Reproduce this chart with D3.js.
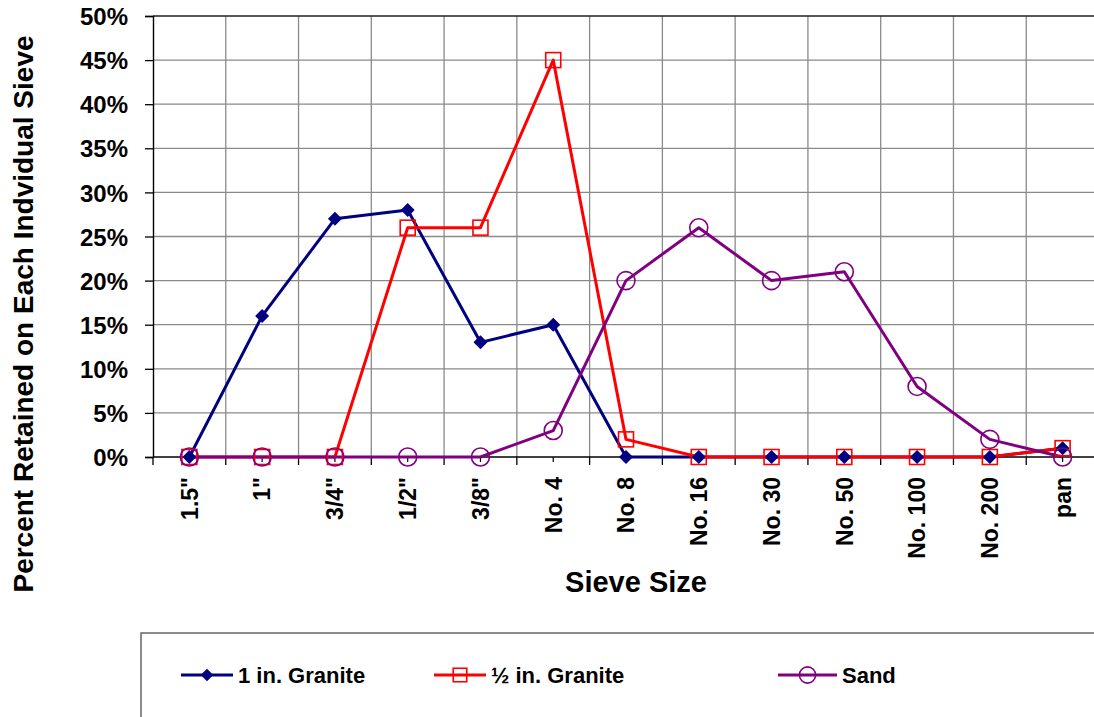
<!DOCTYPE html>
<html><head><meta charset="utf-8">
<script src="https://cdn.jsdelivr.net/npm/d3@7"></script>
<style>body{margin:0;background:#fff;overflow:hidden}svg{display:block}text{font-family:Arial,"Liberation Sans",sans-serif;font-weight:bold;fill:#000}</style>
</head><body>
<script>
const categories = ['1.5"', '1"', '3/4"', '1/2"', '3/8"', 'No. 4', 'No. 8', 'No. 16', 'No. 30', 'No. 50', 'No. 100', 'No. 200', 'pan'];
const granite1 = [0, 16, 27, 28, 13, 15, 0, 0, 0, 0, 0, 0, 1];
const granite05 = [0, 0, 0, 26, 26, 45, 2, 0, 0, 0, 0, 0, 1];
const sand = [0, 0, 0, 0, 0, 3, 20, 26, 20, 21, 8, 2, 0];
const seriesNames = ['1 in. Granite', '\u00bd in. Granite', 'Sand'];
const yTicks = [0, 5, 10, 15, 20, 25, 30, 35, 40, 45, 50];

const W = 1094, H = 717;
const svg = d3.select('body').append('svg').attr('width', W).attr('height', H);

const x = d3.scaleBand().domain(categories).range([153, 1099]);
const y = d3.scaleLinear().domain([0, 50]).range([457, 16]);
const cx = c => x(c) + x.bandwidth() / 2;

// gridlines
const grid = svg.append('g');
grid.selectAll('line.h').data(yTicks.filter(v => v > 0 && v < 50)).join('line')
  .attr('x1', 153).attr('x2', W).attr('y1', d => y(d)).attr('y2', d => y(d))
  .attr('stroke', '#8a8a8a').attr('stroke-width', 1.3);
const bounds = categories.slice(1).map(c => x(c));
grid.selectAll('line.v').data(bounds).join('line')
  .attr('x1', d => d).attr('x2', d => d).attr('y1', y(50)).attr('y2', y(0))
  .attr('stroke', '#8a8a8a').attr('stroke-width', 1.3);
// top border
svg.append('line').attr('x1', 153).attr('x2', W).attr('y1', y(50)).attr('y2', y(50))
  .attr('stroke', '#222').attr('stroke-width', 1.6);

// y axis
const yAxis = d3.axisLeft(y).tickValues(yTicks).tickFormat(d => d + '%').tickSize(8).tickPadding(16);
const gy = svg.append('g').attr('transform', 'translate(153,0)').call(yAxis);
gy.select('.domain').attr('stroke', '#000').attr('stroke-width', 1.4);
gy.selectAll('.tick line').attr('stroke', '#000').attr('stroke-width', 1.3);
gy.selectAll('.tick text').style('font-size', '24px').attr('dy', '0.36em').attr('x', -25);

// x axis
const gx = svg.append('g').attr('transform', 'translate(0,457)');
gx.append('line').attr('x1', 153).attr('x2', W).attr('stroke', '#000').attr('stroke-width', 1.6);
gx.selectAll('line.maj').data([x.range()[0]].concat(bounds)).join('line')
  .attr('x1', d => d).attr('x2', d => d).attr('y1', 0).attr('y2', 8)
  .attr('stroke', '#000').attr('stroke-width', 1.3);
gx.selectAll('line.min').data(categories).join('line')
  .attr('x1', d => cx(d)).attr('x2', d => cx(d)).attr('y1', 0).attr('y2', 5)
  .attr('stroke', '#000').attr('stroke-width', 1.2);
gx.selectAll('text').data(categories).join('text')
  .attr('transform', d => `translate(${cx(d)},20) rotate(-90)`)
  .attr('text-anchor', 'end').attr('dy', '0.36em')
  .style('font-size', '23px').text(d => d);

// titles
svg.append('text').attr('x', 636).attr('y', 592).attr('text-anchor', 'middle')
  .style('font-size', '29px').text('Sieve Size');
svg.append('text').attr('transform', 'translate(33,314) rotate(-90)').attr('text-anchor', 'middle')
  .style('font-size', '28px').text('Percent Retained on Each Indvidual Sieve');

// series
const series = [
  {name: seriesNames[0], values: granite1, color: '#000080', marker: 'diamond'},
  {name: seriesNames[1], values: granite05, color: '#ff0000', marker: 'square'},
  {name: seriesNames[2], values: sand, color: '#800080', marker: 'circle'}
];
const line = d3.line().x((d, i) => cx(categories[i])).y(d => y(d));
series.forEach(s => {
  svg.append('path').attr('d', line(s.values)).attr('fill', 'none')
    .attr('stroke', s.color).attr('stroke-width', 3).attr('stroke-linejoin', 'round');
});
function drawMarker(g, type, color, px, py, scale) {
  scale = scale || 1;
  if (type === 'diamond') {
    const r = 7 * scale;
    g.append('path').attr('d', `M${px},${py - r}L${px + r},${py}L${px},${py + r}L${px - r},${py}Z`).attr('fill', color);
  } else if (type === 'square') {
    const h = 7.5 * scale;
    g.append('rect').attr('x', px - h).attr('y', py - h).attr('width', 2 * h).attr('height', 2 * h)
      .attr('fill', 'none').attr('stroke', color).attr('stroke-width', 1.6);
  } else {
    g.append('circle').attr('cx', px).attr('cy', py).attr('r', 9 * scale)
      .attr('fill', 'none').attr('stroke', color).attr('stroke-width', 1.6);
  }
}
series.forEach(s => {
  const g = svg.append('g');
  s.values.forEach((v, i) => drawMarker(g, s.marker, s.color, cx(categories[i]), y(v)));
});

// legend
svg.append('rect').attr('x', 141).attr('y', 633).attr('width', 1000).attr('height', 200)
  .attr('fill', 'none').attr('stroke', '#666').attr('stroke-width', 1.5);
const legX = [181, 434, 778];
const legLen = [52, 52, 59];
series.forEach((s, i) => {
  const g = svg.append('g');
  const lx = legX[i], ly = 675, len = legLen[i];
  g.append('line').attr('x1', lx).attr('x2', lx + len).attr('y1', ly).attr('y2', ly)
    .attr('stroke', s.color).attr('stroke-width', 3);
  drawMarker(g, s.marker, s.color, lx + len / 2, ly, 0.9);
  g.append('text').attr('x', lx + len + 5).attr('y', ly).attr('dy', '0.36em')
    .style('font-size', '22px').text(s.name);
});
</script>
</body></html>
